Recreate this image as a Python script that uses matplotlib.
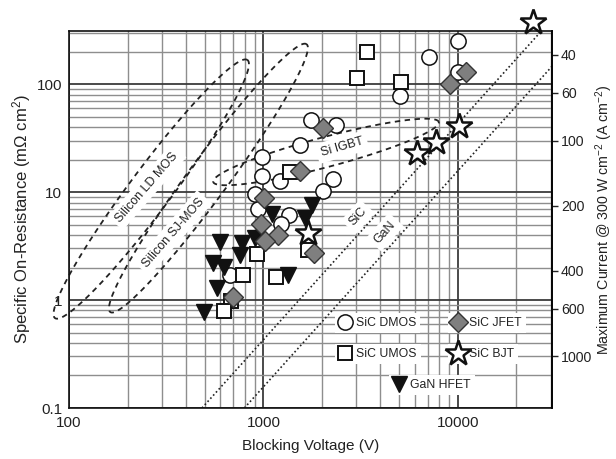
import numpy as np
import matplotlib
matplotlib.use('Agg')
import matplotlib.pyplot as plt
from matplotlib.ticker import FixedLocator, NullLocator, FixedFormatter, LogLocator

plt.rcParams['font.family'] = ['Liberation Sans', 'DejaVu Sans']
plt.rcParams['mathtext.fontset'] = 'custom'
plt.rcParams['mathtext.rm'] = 'Liberation Sans'
plt.rcParams['mathtext.it'] = 'Liberation Sans:italic'
plt.rcParams['mathtext.bf'] = 'Liberation Sans:bold'

# ---------------- data ----------------
dmos_v = [10000, 7100, 10000, 5050, 1760, 2370, 1550, 985, 985, 1210, 2290, 2030, 900, 940, 1360, 1225, 670]
dmos_r = [252, 179, 128, 77, 46, 42, 27, 21, 14, 12.6, 13.2, 10.3, 9.6, 6.9, 6.1, 5.1, 1.7]
umos_v = [3430, 3040, 5080, 1370, 930, 1690, 782, 1167, 684, 624]
umos_r = [196, 113, 104, 15.4, 2.67, 2.9, 1.7, 1.62, 0.98, 0.79]
hfet_v = [1110, 1780, 1640, 910, 776, 596, 760, 551, 624, 1334, 577, 492]
hfet_r = [6.3, 7.6, 5.8, 3.72, 3.35, 3.47, 2.61, 2.19, 2.03, 1.70, 1.28, 0.78]
jfet_v = [2030, 1550, 1004, 977, 1190, 1023, 1815, 694, 9120, 11000]
jfet_r = [39, 15.7, 8.75, 5.1, 4.0, 3.5, 2.74, 1.07, 101, 130]
bjt_v = [24400, 10160, 7710, 6190, 1700]
bjt_r = [375, 41, 29, 23, 4.2]

# material limit lines (end points)
sic_limit_v = [483, 26900]
sic_limit_r = [0.1, 310]
gan_limit_v = [798, 30500]
gan_limit_r = [0.1, 146]

# device regions: (tip A, tip B) in (V, R)
ldmos_tips = [(84.7, 0.68), (828, 167)]
sjmos_tips = [(163, 0.774), (1667, 234)]
igbt_tips = [(552, 12.4), (7980, 44.5)]

x_ticks = [100, 1000, 10000]
x_ticklabels = ['100', '1000', '10000']
y_ticks = [0.1, 1, 10, 100]
y_ticklabels = ['0.1', '1', '10', '100']
current_ticks = [40, 60, 100, 200, 400, 600, 1000]
power_density = 300.0  # W/cm^2

# ---------------- figure ----------------
fig = plt.figure(figsize=(6.16, 4.59), dpi=100)
ax = fig.add_axes([69/616, 1-408/459, (552-69)/616, (408-31)/459])
ax.set_xscale('log')
ax.set_yscale('log')
ax.set_xlim(100, 30500)
ax.set_ylim(0.1, 310)

ax.xaxis.set_major_locator(FixedLocator(x_ticks))
ax.xaxis.set_major_formatter(FixedFormatter(x_ticklabels))
ax.yaxis.set_major_locator(FixedLocator(y_ticks))
ax.yaxis.set_major_formatter(FixedFormatter(y_ticklabels))
ax.xaxis.set_minor_locator(LogLocator(base=10, subs=np.arange(2, 10)))
ax.yaxis.set_minor_locator(LogLocator(base=10, subs=np.arange(2, 10)))
ax.xaxis.set_minor_formatter(plt.NullFormatter())
ax.yaxis.set_minor_formatter(plt.NullFormatter())
ax.tick_params(which='both', length=0, labelsize=11, colors='#222222')
ax.tick_params(axis='y', pad=5)
ax.tick_params(axis='x', pad=6)

ax.grid(which='minor', color='#8e8e8e', lw=1.0, zorder=0)
ax.grid(which='major', color='#3c3c3c', lw=1.3, zorder=0)
ax.set_axisbelow(True)
for s in ax.spines.values():
    s.set_linewidth(1.2)
    s.set_color('#111111')

ax.set_xlabel('Blocking Voltage (V)', fontsize=11, color='#222222')
ax.xaxis.set_label_coords(0.5, -(439 - 408) / 377)
ax.set_ylabel('Specific On-Resistance (m\u03A9 cm$^2$)', fontsize=12, color='#222222')
ax.yaxis.set_label_coords(-(69 - 33) / 483, 0.5)

# limit lines
ax.plot(sic_limit_v, sic_limit_r, ls=(0, (1, 1.5)), color='#222222', lw=1.2, zorder=2)
ax.plot(gan_limit_v, gan_limit_r, ls=(0, (1, 1.5)), color='#222222', lw=1.2, zorder=2)

def loop_outline(tips, half_width_px, n=300):
    pa = ax.transData.transform(tips[0])
    pb = ax.transData.transform(tips[1])
    c = (pa + pb) / 2
    d = pb - pa
    L = np.hypot(*d) / 2
    ang = np.arctan2(d[1], d[0])
    t = np.linspace(0, 2*np.pi, n)
    x = L*np.cos(t)
    y = half_width_px*np.sin(t)
    X = c[0] + x*np.cos(ang) - y*np.sin(ang)
    Y = c[1] + x*np.sin(ang) + y*np.cos(ang)
    return ax.transData.inverted().transform(np.column_stack([X, Y]))

for tips, hw in [(ldmos_tips, 21), (sjmos_tips, 20), (igbt_tips, 15)]:
    pts = loop_outline(tips, hw)
    ax.plot(pts[:, 0], pts[:, 1], ls=(0, (3, 2.5)), color='#222222', lw=1.3,
            clip_on=False, zorder=2)

box = dict(facecolor='white', edgecolor='none', pad=3)
lab_kw = dict(fontsize=9, ha='center', va='center', rotation_mode='anchor',
              color='#222222', bbox=box, zorder=3)
ax.text(252, 11.1, 'Silicon LD MOS', rotation=49, **lab_kw)
ax.text(343, 4.17, 'Silicon SJ-MOS', rotation=49, **lab_kw)
ax.text(2535, 26.1, 'Si IGBT', rotation=16, **lab_kw)
ax.text(3060, 5.9, 'SiC', rotation=48, **lab_kw)
ax.text(4220, 4.26, 'GaN', rotation=48, **lab_kw)

# markers
h_dmos, = ax.plot(dmos_v, dmos_r, 'o', ms=11, mfc='white', mec='#111111', mew=1.1, ls='none', zorder=5, label='SiC DMOS')
h_umos, = ax.plot(umos_v, umos_r, 's', ms=10, mfc='white', mec='#111111', mew=1.4, ls='none', zorder=5, label='SiC UMOS')
h_hfet, = ax.plot(hfet_v, hfet_r, 'v', ms=11, mfc='#111111', mec='#111111', mew=1.0, ls='none', zorder=6, label='GaN HFET')
h_jfet, = ax.plot(jfet_v, jfet_r, 'D', ms=10, mfc='#7f7f7f', mec='#333333', mew=1.0, ls='none', zorder=7, label='SiC JFET')
h_bjt, = ax.plot(bjt_v, bjt_r, '*', ms=19, mfc='white', mec='#111111', mew=1.8, ls='none', zorder=8,
                 clip_on=False, label='SiC BJT')

# legend entries, each in its own white box
def px2ax(px, py):
    return ((px - 69) / 483, (408 - py) / 377)

entries = [(h_dmos, 335, 323), (h_jfet, 448, 323), (h_umos, 335, 354),
           (h_bjt, 448, 354), (h_hfet, 389, 385)]
for h, px, py in entries:
    leg = ax.legend([h], [h.get_label()], loc='center left', bbox_to_anchor=px2ax(px, py),
                    frameon=True, fancybox=False, framealpha=1, facecolor='white',
                    edgecolor='none', fontsize=8.8, handlelength=1.0, handletextpad=0.45,
                    borderpad=0.3, borderaxespad=0, numpoints=1)
    leg.set_zorder(9)
    for t in leg.get_texts():
        t.set_color('#222222')
    ax.add_artist(leg)

# right axis: max current at 300 W/cm^2
ax2 = ax.twinx()
ax2.set_yscale('log')
ax2.set_ylim(ax.get_ylim())
cur = np.array(current_ticks, dtype=float)
ax2.yaxis.set_major_locator(FixedLocator(power_density * 1e3 / cur**2))
ax2.yaxis.set_major_formatter(FixedFormatter([str(c) for c in current_ticks]))
ax2.yaxis.set_minor_locator(NullLocator())
ax2.tick_params(axis='y', direction='out', length=4, width=1.0, labelsize=10.2, pad=2.5, colors='#222222')
ax2.set_ylabel('Maximum Current @ 300 W cm$^{-2}$ (A cm$^{-2}$)', fontsize=10.3, color='#222222')
ax2.yaxis.set_label_coords((593 - 69) / 483, 0.5)
for s in ax2.spines.values():
    s.set_visible(False)
ax2.spines['right'].set_visible(True)
ax2.spines['right'].set_linewidth(1.2)

fig.savefig('out.png', dpi=100)
